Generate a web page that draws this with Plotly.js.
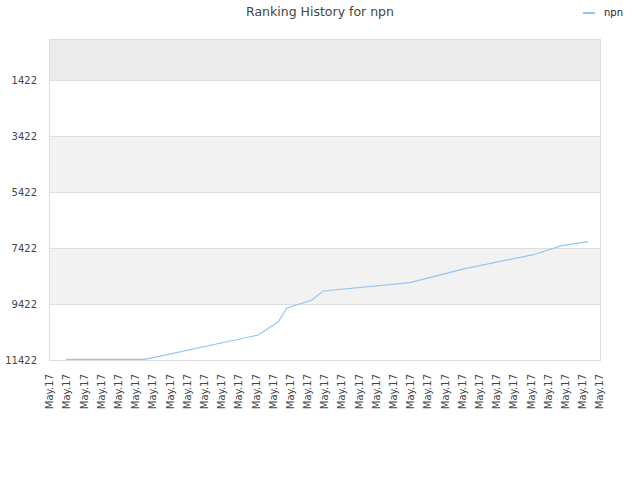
<!DOCTYPE html>
<html>
<head>
<meta charset="utf-8">
<script src="https://cdn.plot.ly/plotly-3.0.1.min.js"></script>
<style>html,body{margin:0;padding:0;background:#fff;}#chart{width:640px;height:480px;}</style>
</head>
<body>
<div id="chart"></div>
<script>
// Data
const seriesName = 'npn';
const xPos = [0.93, 5.53, 12.12, 13.28, 13.77, 15.23, 15.9, 20.95, 23.95, 26.47, 28.12, 29.77, 31.32];
const ranks = [11397, 11397, 10529, 10054, 9575, 9279, 8958, 8661, 8183, 7876, 7661, 7340, 7197];
const tickPositions = [];
const tickLabels = [];
for (let i = 0; i <= 32; i++) { tickPositions.push(i); tickLabels.push("May.17"); }
const yTicks = [1422, 3422, 5422, 7422, 9422, 11422];
const bands = [[-7, 1422, '#ececec'], [3422, 5422, '#f2f2f2'], [7422, 9422, '#f2f2f2']];
const lineColor = '#92c5f5';

const trace = {
  x: xPos, y: ranks, type: 'scatter', mode: 'lines', name: seriesName,
  line: {color: lineColor, width: 1.2}, showlegend: false
};

const shapes = bands.map(b => ({
  type: 'rect', xref: 'paper', yref: 'y', x0: 0, x1: 1, y0: b[0], y1: b[1],
  fillcolor: b[2], line: {width: 0}, layer: 'below'
}));
// legend key (short line like the reference)
shapes.push({type: 'line', xref: 'paper', yref: 'paper',
  x0: (583 - 50) / 550, x1: (595 - 50) / 550, y0: (360 - 13) / 320, y1: (360 - 13) / 320,
  line: {color: lineColor, width: 2}});

const layout = {
  width: 640, height: 480,
  margin: {l: 50, r: 40, t: 40, b: 120, autoexpand: false},
  paper_bgcolor: '#fff', plot_bgcolor: '#fff',
  font: {family: 'DejaVu Sans, sans-serif', size: 10, color: '#444'},
  title: {text: 'Ranking History for npn', x: 0.5, xanchor: 'center', y: 0.975, yanchor: 'middle', font: {size: 12.5, color: '#444'}},
  showlegend: false,
  annotations: [{text: seriesName, xref: 'paper', yref: 'paper', x: (602 - 50) / 550, y: (360 - 13) / 320,
    xanchor: 'left', yanchor: 'middle', showarrow: false, font: {size: 10, color: '#222'}}],
  xaxis: {
    range: [0, 32], tickmode: 'array', tickvals: tickPositions, ticktext: tickLabels,
    tickangle: -90, showgrid: false, zeroline: false, automargin: false,
    showline: true, linecolor: '#ddd', mirror: true, ticks: '', ticklabelstandoff: 9,
    tickfont: {size: 10, color: '#444'}
  },
  yaxis: {
    range: [11422, -7], tickmode: 'array', tickvals: yTicks, ticktext: yTicks.map(String),
    showgrid: true, gridcolor: '#ddd', zeroline: false, automargin: false,
    showline: true, linecolor: '#ddd', mirror: true, ticks: '', ticklabelstandoff: 10,
    tickfont: {size: 10, color: '#444'}
  },
  shapes: shapes
};

Plotly.newPlot('chart', [trace], layout, {staticPlot: true, displayModeBar: false});
</script>
</body>
</html>
